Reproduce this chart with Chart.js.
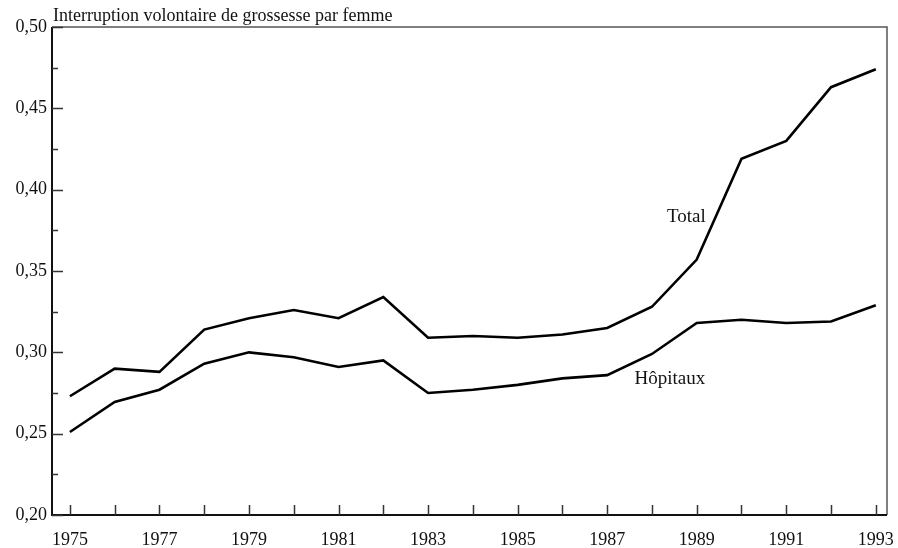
<!DOCTYPE html>
<html>
<head>
<meta charset="utf-8">
<script src="https://cdn.jsdelivr.net/npm/chart.js@4/dist/chart.umd.min.js"></script>
<style>
  html, body { margin: 0; padding: 0; background: #fff; }
  canvas { display: block; }
</style>
</head>
<body>
<canvas id="c" width="898" height="548"></canvas>
<script>
const years = [1975,1976,1977,1978,1979,1980,1981,1982,1983,1984,1985,1986,1987,1988,1989,1990,1991,1992,1993];
const total = [0.273,0.290,0.288,0.314,0.321,0.326,0.321,0.334,0.309,0.310,0.309,0.311,0.315,0.328,0.357,0.419,0.430,0.463,0.474];
const hopitaux = [0.251,0.2695,0.277,0.293,0.300,0.297,0.291,0.295,0.275,0.277,0.280,0.284,0.286,0.299,0.318,0.320,0.318,0.319,0.329];
const yTicks = [0.20,0.225,0.25,0.275,0.30,0.325,0.35,0.375,0.40,0.425,0.45,0.475,0.50];
const yMajor = [0.20,0.25,0.30,0.35,0.40,0.45,0.50];
const xLabelYears = [1975,1977,1979,1981,1983,1985,1987,1989,1991,1993];
const titleText = "Interruption volontaire de grossesse par femme";
const seriesLabels = [
  { text: "Total", x: 1988.77, y: 0.3802 },
  { text: "Hôpitaux", x: 1988.40, y: 0.2806 }
];

const FONT = "'Liberation Serif', 'Times New Roman', serif";
const isMajor = v => yMajor.some(m => Math.abs(m - v) < 1e-6);

const decor = {
  id: 'decor',
  afterDraw(chart) {
    const ctx = chart.ctx;
    const a = chart.chartArea;
    const xs = chart.scales.x, ys = chart.scales.y;
    ctx.save();
    // frame
    ctx.strokeStyle = '#555';
    ctx.lineWidth = 1.5;
    ctx.beginPath();
    ctx.moveTo(a.left, a.top); ctx.lineTo(a.right, a.top); ctx.lineTo(a.right, a.bottom);
    ctx.stroke();
    ctx.strokeStyle = '#111';
    ctx.lineWidth = 2;
    ctx.beginPath();
    ctx.moveTo(a.left, a.top); ctx.lineTo(a.left, a.bottom); ctx.lineTo(a.right, a.bottom);
    ctx.stroke();
    // inward ticks
    ctx.strokeStyle = '#333';
    ctx.lineWidth = 1.5;
    ctx.beginPath();
    ys.ticks.forEach(t => {
      const y = Math.round(ys.getPixelForValue(t.value)) + 0.5;
      const len = isMajor(t.value) ? 11 : 6;
      ctx.moveTo(a.left, y); ctx.lineTo(a.left + len, y);
    });
    xs.ticks.forEach(t => {
      const x = Math.round(xs.getPixelForValue(t.value)) + 0.5;
      ctx.moveTo(x, a.bottom); ctx.lineTo(x, a.bottom - 10);
    });
    ctx.stroke();
    // title
    ctx.fillStyle = '#111';
    ctx.font = '18px ' + FONT;
    ctx.textAlign = 'left';
    ctx.textBaseline = 'alphabetic';
    ctx.fillText(titleText, a.left + 1, 21);
    // series labels
    ctx.font = '19px ' + FONT;
    ctx.textAlign = 'center';
    seriesLabels.forEach(l => {
      ctx.fillText(l.text, xs.getPixelForValue(l.x), ys.getPixelForValue(l.y));
    });
    ctx.restore();
  }
};

new Chart(document.getElementById('c'), {
  type: 'line',
  data: {
    datasets: [
      { label: 'Total', data: years.map((y, i) => ({ x: y, y: total[i] })),
        borderColor: '#000', borderWidth: 2.6, pointRadius: 0, tension: 0, fill: false },
      { label: 'Hôpitaux', data: years.map((y, i) => ({ x: y, y: hopitaux[i] })),
        borderColor: '#000', borderWidth: 2.6, pointRadius: 0, tension: 0, fill: false }
    ]
  },
  options: {
    responsive: false,
    animation: false,
    layout: { padding: { top: 27, right: 11, left: 0, bottom: 0 } },
    plugins: { legend: { display: false }, tooltip: { enabled: false }, title: { display: false } },
    scales: {
      x: {
        type: 'linear',
        min: 1974.6,
        max: 1993.25,
        afterBuildTicks: s => { s.ticks = years.map(v => ({ value: v })); },
        afterFit: s => { s.height = 33; },
        grid: { display: true, drawOnChartArea: false, drawTicks: true, tickLength: 14, color: 'rgba(0,0,0,0)' },
        border: { display: false },
        ticks: {
          autoSkip: false, maxRotation: 0, minRotation: 0, padding: 0,
          color: '#111', font: { family: FONT, size: 18 },
          callback: v => xLabelYears.includes(v) ? String(v) : ''
        }
      },
      y: {
        type: 'linear',
        min: 0.20,
        max: 0.50,
        afterBuildTicks: s => { s.ticks = yTicks.map(v => ({ value: v })); },
        afterFit: s => { s.width = 52; },
        grid: { display: false, drawTicks: false },
        border: { display: false },
        ticks: {
          autoSkip: false, padding: 5,
          color: '#111', font: { family: FONT, size: 18 },
          callback: v => isMajor(v) ? v.toFixed(2).replace('.', ',') : ''
        }
      }
    }
  },
  plugins: [decor]
});
</script>
</body>
</html>
